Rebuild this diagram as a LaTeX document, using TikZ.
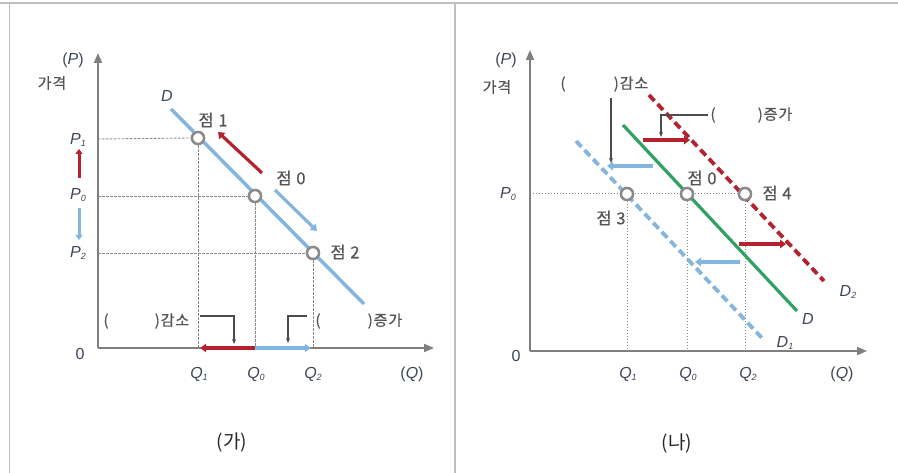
\documentclass[tikz,border=0pt]{standalone}
\usepackage{fontspec}
\setmainfont{Liberation Sans}
\newfontfamily\kr[LetterSpace=6,FakeBold=0.6]{Noto Sans CJK KR}
\newfontfamily\krcap{Noto Sans CJK KR}
\usetikzlibrary{arrows.meta}
\definecolor{axgray}{HTML}{7F7F7F}
\definecolor{ptgray}{HTML}{8A8A8A}
\definecolor{lblue}{HTML}{84B5DE}
\definecolor{dred}{HTML}{B3222E}
\definecolor{dgreen}{HTML}{2FA263}
\definecolor{labc}{HTML}{3E4656}
\definecolor{krc}{HTML}{555555}
\newcommand\lbl[2]{\textit{#1}\raisebox{-0.3ex}{\fontsize{9}{10}\selectfont\textit{#2}}}
\begin{document}
\begin{tikzpicture}[x=1pt,y=-1pt,
  axis/.style={draw=axgray,line width=1.8pt,-{Triangle[length=10pt,width=8pt]}},
  guide/.style={draw=ptgray,line width=0.9pt,dash pattern=on 2.5pt off 1.5pt},
  dotg/.style={draw=ptgray,line width=1pt,dash pattern=on 1.2pt off 1.8pt},
  ptc/.style={circle,draw=ptgray,fill=white,line width=2.4pt,minimum size=12pt,inner sep=0pt},
  redarr/.style={draw=dred,line width=3.2pt,-{Triangle[length=6pt,width=8.5pt]}},
  bluearr/.style={draw=lblue,line width=3.2pt,-{Triangle[length=6pt,width=8.5pt]}},
  brk/.style={draw=black!70,line width=1.1pt,-{Stealth[length=5pt,width=4pt]}},
  lab/.style={text=labc,font=\fontsize{16}{18}\selectfont,inner sep=0pt},
  krl/.style={text=krc,font=\kr\fontsize{16.5}{18}\selectfont,inner sep=0pt},
  krs/.style={text=krc,font=\kr\fontsize{15}{17}\selectfont,inner sep=0pt},
  captxt/.style={text=black!85,font=\krcap\fontsize{19}{21}\selectfont,inner sep=0pt}]
\useasboundingbox (0,0) rectangle (898,473);
% frame
\draw[draw=black!25,line width=1.5pt] (0,3) -- (898,3);
\draw[draw=black!25,line width=1.5pt] (9.5,3) -- (9.5,473);
\draw[draw=black!25,line width=1.5pt] (455,3) -- (455,473);

%%%%%%%%%%%%%%%% LEFT PANEL
\coordinate (LO) at (98,348);
\coordinate (LY) at (98,53);
\coordinate (LX) at (434,348);
\coordinate (LyP1) at (98,139);
\coordinate (LyP0) at (98,196);
\coordinate (LyP2) at (98,253);
\coordinate (LxQ1) at (198,348);
\coordinate (LxQ0) at (255,348);
\coordinate (LxQ2) at (313,348);
% guides
\node[ptc] (l1) at (198,138) {};
\node[ptc] (l0) at (255,196) {};
\node[ptc] (l2) at (313,253) {};
\draw[guide] (LyP1) -- (l1.west);
\draw[guide] (LyP0) -- (l0.west);
\draw[guide] (LyP2) -- (l2.west);
\draw[guide] (l1.south) -- (LxQ1);
\draw[guide] (l0.south) -- (LxQ0);
\draw[guide] (l2.south) -- (LxQ2);
% demand line
\coordinate (LDa) at (171,109);
\coordinate (LDb) at (364,304);
\draw[draw=lblue,line width=3.5pt] (LDa) -- (LDb);
\node[ptc] at (l1) {};
\node[ptc] at (l0) {};
\node[ptc] at (l2) {};
% axes
\draw[axis] (LO) -- (LY);
\draw[axis] (LO) -- (LX);
% movement arrows along D
\coordinate (Lr1) at (262,173);
\coordinate (Lr2) at (218,132);
\draw[redarr] (Lr1) -- (Lr2);
\coordinate (Lb1) at (275,190);
\coordinate (Lb2) at (317,231);
\draw[bluearr] (Lb1) -- (Lb2);
% price labels and arrows
\node[lab] (LP1) at (78,140) {\lbl{P}{1}};
\node[lab] (LP0) at (78,195) {\lbl{P}{0}};
\node[lab] (LP2) at (78,253) {\lbl{P}{2}};
\coordinate (Lpr1) at (79,178);
\coordinate (Lpr2) at (79,149);
\coordinate (Lpb1) at (79,208);
\coordinate (Lpb2) at (79,240);
\draw[draw=dred,line width=3pt,-{Triangle[length=5pt,width=7pt]}] (Lpr1) -- (Lpr2);
\draw[draw=lblue,line width=3pt,-{Triangle[length=5pt,width=7pt]}] (Lpb1) -- (Lpb2);
% quantity arrows
\draw[draw=dred,line width=3.5pt,-{Triangle[length=6pt,width=8pt]}] (LxQ0) -- (200,348);
\draw[draw=lblue,line width=3.5pt,-{Triangle[length=6pt,width=8pt]}] (LxQ0) -- (311,348);
% labels
\node[lab] at (73,60) {(\textit{P})};
\node[krs] at (52,83) {가격};
\node[lab] at (80,354) {0};
\node[lab] at (199,374) {\lbl{Q}{1}};
\node[lab] at (256,374) {\lbl{Q}{0}};
\node[lab] at (313,374) {\lbl{Q}{2}};
\node[lab] at (412,374) {(\textit{Q})};
\node[lab] at (167,96) {\textit{D}};
\node[krl] at (213,120) {점 1};
\node[krl] at (291,178) {점 0};
\node[krl] at (345,252) {점 2};
% brackets
\node[krs] (Lpa) at (106,321) {(};
\node[krs] (Lgam) at (172,321) {)감소};
\coordinate (Lg1) at (200,316);
\coordinate (Lg2) at (234,316);
\coordinate (Lg3) at (234,344);
\draw[brk] (Lg1) -- (Lg2) -- (Lg3);
\node[krs] (Lpb) at (318,321) {(};
\node[krs] (Ljeung) at (385,321) {)증가};
\coordinate (Lj1) at (307,316);
\coordinate (Lj2) at (288,316);
\coordinate (Lj3) at (288,343);
\draw[brk] (Lj1) -- (Lj2) -- (Lj3);
\node[captxt] at (232,443) {(가)};

%%%%%%%%%%%%%%%% RIGHT PANEL
\coordinate (RO) at (530,351);
\coordinate (RY) at (530,50);
\coordinate (RX) at (867,351);
\coordinate (RyP0) at (530,194);
\coordinate (RxQ1) at (627,351);
\coordinate (RxQ0) at (687,351);
\coordinate (RxQ2) at (745,351);
\node[ptc] (r3) at (627,194) {};
\node[ptc] (r0) at (687,194) {};
\node[ptc] (r4) at (745,194) {};
\draw[dotg] (RyP0) -- (r4.west);
\draw[dotg] (r3.south) -- (RxQ1);
\draw[dotg] (r0.south) -- (RxQ0);
\draw[dotg] (r4.south) -- (RxQ2);
% demand curves
\coordinate (RDa) at (623,125);
\coordinate (RDb) at (797,311);
\coordinate (RD2a) at (649,95);
\coordinate (RD2b) at (824,281);
\coordinate (RD1a) at (576,141);
\coordinate (RD1b) at (762,338);
\draw[draw=lblue,line width=3.8pt,dash pattern=on 8pt off 4.5pt] (RD1a) -- (RD1b);
\draw[draw=dred,line width=3.8pt,dash pattern=on 8pt off 4.5pt] (RD2a) -- (RD2b);
\draw[draw=dgreen,line width=3.2pt] (RDa) -- (RDb);
\node[ptc] at (r3) {};
\node[ptc] at (r0) {};
\node[ptc] at (r4) {};
% axes
\draw[axis] (RO) -- (RY);
\draw[axis] (RO) -- (RX);
% shift arrows
\draw[redarr] (643,140) -- (690,140);
\draw[bluearr] (653,166) -- (607,166);
\draw[redarr] (739,244) -- (786,244);
\draw[bluearr] (740,262) -- (695,262);
% labels
\node[lab] at (506,60) {(\textit{P})};
\node[krs] at (497,87) {가격};
\node[lab] at (508,194) {\lbl{P}{0}};
\node[lab] at (516,356) {0};
\node[lab] at (628,374) {\lbl{Q}{1}};
\node[lab] at (688,374) {\lbl{Q}{0}};
\node[lab] at (748,374) {\lbl{Q}{2}};
\node[lab] at (842,374) {(\textit{Q})};
\node[lab] at (808,319) {\textit{D}};
\node[lab] at (848,292) {\lbl{D}{2}};
\node[lab] at (785,343) {\lbl{D}{1}};
\node[krl] at (702,178) {점 0};
\node[krl] at (777,193) {점 4};
\node[krl] at (611,218) {점 3};
% brackets
\node[krs] (Rpa) at (563,84) {(};
\node[krs] (Rgam) at (631,84) {)감소};
\coordinate (Rg1) at (611,98);
\coordinate (Rg2) at (611,163);
\draw[brk] (Rg1) -- (Rg2);
\node[krs] (Rpb) at (713,115) {(};
\node[krs] (Rjeung) at (775,115) {)증가};
\coordinate (Rj1) at (708,115);
\coordinate (Rj2) at (661,115);
\coordinate (Rj3) at (661,137);
\draw[brk] (Rj1) -- (Rj2) -- (Rj3);
\node[captxt] at (677,444) {(나)};
\end{tikzpicture}
\end{document}
